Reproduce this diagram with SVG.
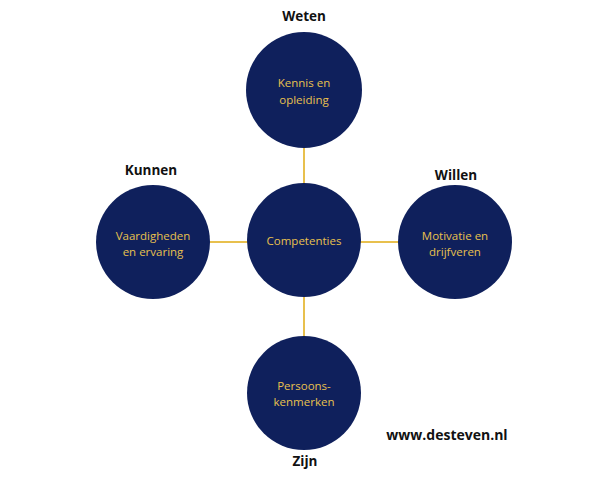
<svg xmlns="http://www.w3.org/2000/svg" width="609" height="480" viewBox="0 0 609 480">
<style>
.c{fill:#0f205c}
.t{font-family:"Open Sans","Liberation Sans",sans-serif;font-size:11.5px;fill:#e8c04e;text-anchor:middle}
.h{font-family:"Open Sans","Liberation Sans",sans-serif;font-size:13.5px;font-weight:bold;fill:#111;text-anchor:middle}
.l{stroke:#e8c04e;stroke-width:2}
</style>
<rect width="609" height="480" fill="#fff"/>
<g id="connectors">
<line class="l" x1="304" y1="148" x2="304" y2="184"/>
<line class="l" x1="304" y1="296" x2="304" y2="337"/>
<line class="l" x1="210" y1="242" x2="248" y2="242"/>
<line class="l" x1="360" y1="242" x2="398" y2="242"/>
</g>
<g id="competenties">
<circle class="c" cx="304" cy="240" r="57"/>
<text class="t" x="304" y="245">Competenties</text>
</g>
<g id="weten">
<circle class="c" cx="304" cy="90" r="58"/>
<text class="t" x="304" y="87">Kennis en</text>
<text class="t" x="304" y="104">opleiding</text>
<text class="h" x="304" y="21">Weten</text>
</g>
<g id="kunnen">
<circle class="c" cx="153" cy="242" r="57"/>
<text class="t" x="153" y="240">Vaardigheden</text>
<text class="t" x="153" y="256">en ervaring</text>
<text class="h" x="151" y="175">Kunnen</text>
</g>
<g id="willen">
<circle class="c" cx="455" cy="242" r="57"/>
<text class="t" x="455" y="240">Motivatie en</text>
<text class="t" x="455" y="256">drijfveren</text>
<text class="h" x="456" y="180">Willen</text>
</g>
<g id="zijn">
<circle class="c" cx="304" cy="393" r="57"/>
<text class="t" x="304" y="390">Persoons-</text>
<text class="t" x="304" y="406">kenmerken</text>
<text class="h" x="305" y="466">Zijn</text>
</g>
<text class="h" x="447" y="440" style="font-size:14px">www.desteven.nl</text>
</svg>
